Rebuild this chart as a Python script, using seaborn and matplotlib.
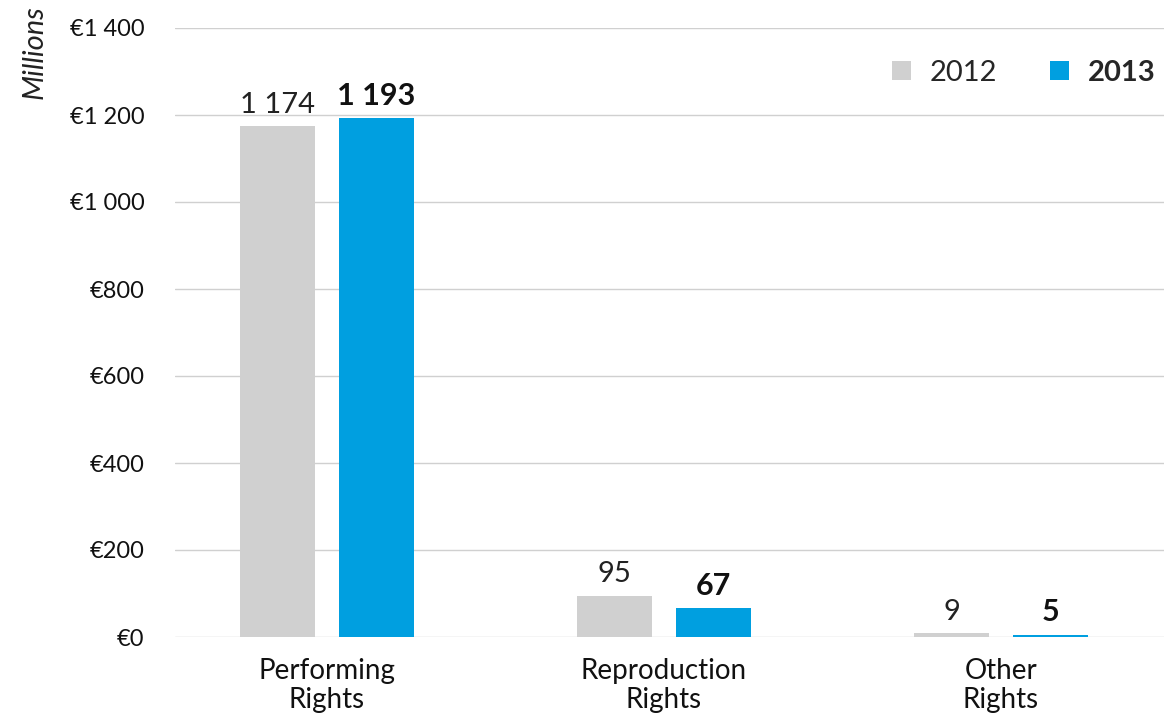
import matplotlib
matplotlib.use("Agg")
import matplotlib.pyplot as plt
from matplotlib.ticker import FuncFormatter, MultipleLocator
import seaborn as sns
import pandas as pd

# Collections by type of right, in millions of euros
categories = ["Performing\nRights", "Reproduction\nRights", "Other\nRights"]
years = ["2012", "2013"]
values_2012 = [1174, 95, 9]
values_2013 = [1193, 67, 5]
colors = {"2012": "#d0d0d0", "2013": "#009fe0"}

df = pd.DataFrame({
    "category": categories * 2,
    "year": [years[0]] * 3 + [years[1]] * 3,
    "value": values_2012 + values_2013,
})

sns.set_theme(style="white")
plt.rcParams["font.family"] = ["Lato", "DejaVu Sans"]

fig = plt.figure(figsize=(11.64, 7.22), dpi=100)
ax = fig.add_axes([175 / 1164, 85 / 722, 989 / 1164, 609 / 722])

sns.barplot(data=df, x="category", y="value", hue="year", hue_order=years,
            order=categories, palette=colors, width=0.585, gap=0.24,
            saturation=1, linewidth=0, ax=ax)

ax.set_ylim(0, 1400)
ax.set_xlim(-0.451, 2.484)
ax.yaxis.set_major_locator(MultipleLocator(200))
ax.yaxis.set_major_formatter(
    FuncFormatter(lambda v, _: "€" + f"{int(v):,}".replace(",", " ")))
ax.grid(axis="y", color="#d0d0d0", linewidth=1.0)
ax.set_axisbelow(True)
for s in ax.spines.values():
    s.set_visible(False)
ax.set_xlabel("")
ax.set_ylabel("")
ax.tick_params(axis="y", length=0, pad=22, labelsize=17, labelcolor="#111111")
ax.tick_params(axis="x", length=0, pad=15, labelsize=20, labelcolor="#111111")
for lbl in ax.get_xticklabels():
    lbl.set_linespacing(1.15)
ylabels = ax.get_yticklabels()
ylabels[-1].set_fontsize(23)

# Value labels: 2012 regular, 2013 bold
fmt = lambda v: f"{int(v):,}".replace(",", " ")
ax.bar_label(ax.containers[0], labels=[fmt(v) for v in values_2012],
             padding=6, fontsize=21, color="#222222")
ax.bar_label(ax.containers[1], labels=[fmt(v) for v in values_2013],
             padding=6, fontsize=22, fontweight="bold", color="#111111")

handles, labels = ax.get_legend_handles_labels()
leg = ax.legend(handles, labels, ncol=2, frameon=False, loc="upper right",
                bbox_to_anchor=(1.0, 0.962), borderaxespad=0, borderpad=0.3,
                handlelength=0.65, handleheight=0.65, handletextpad=0.65,
                columnspacing=1.8, fontsize=21)
leg.get_texts()[1].set_fontweight("bold")

fig.text(35 / 1164, 1 - 52 / 722, "Millions", rotation=90, style="italic",
         fontsize=21, ha="center", va="center", color="#222222")

fig.savefig("out.png", dpi=100)
